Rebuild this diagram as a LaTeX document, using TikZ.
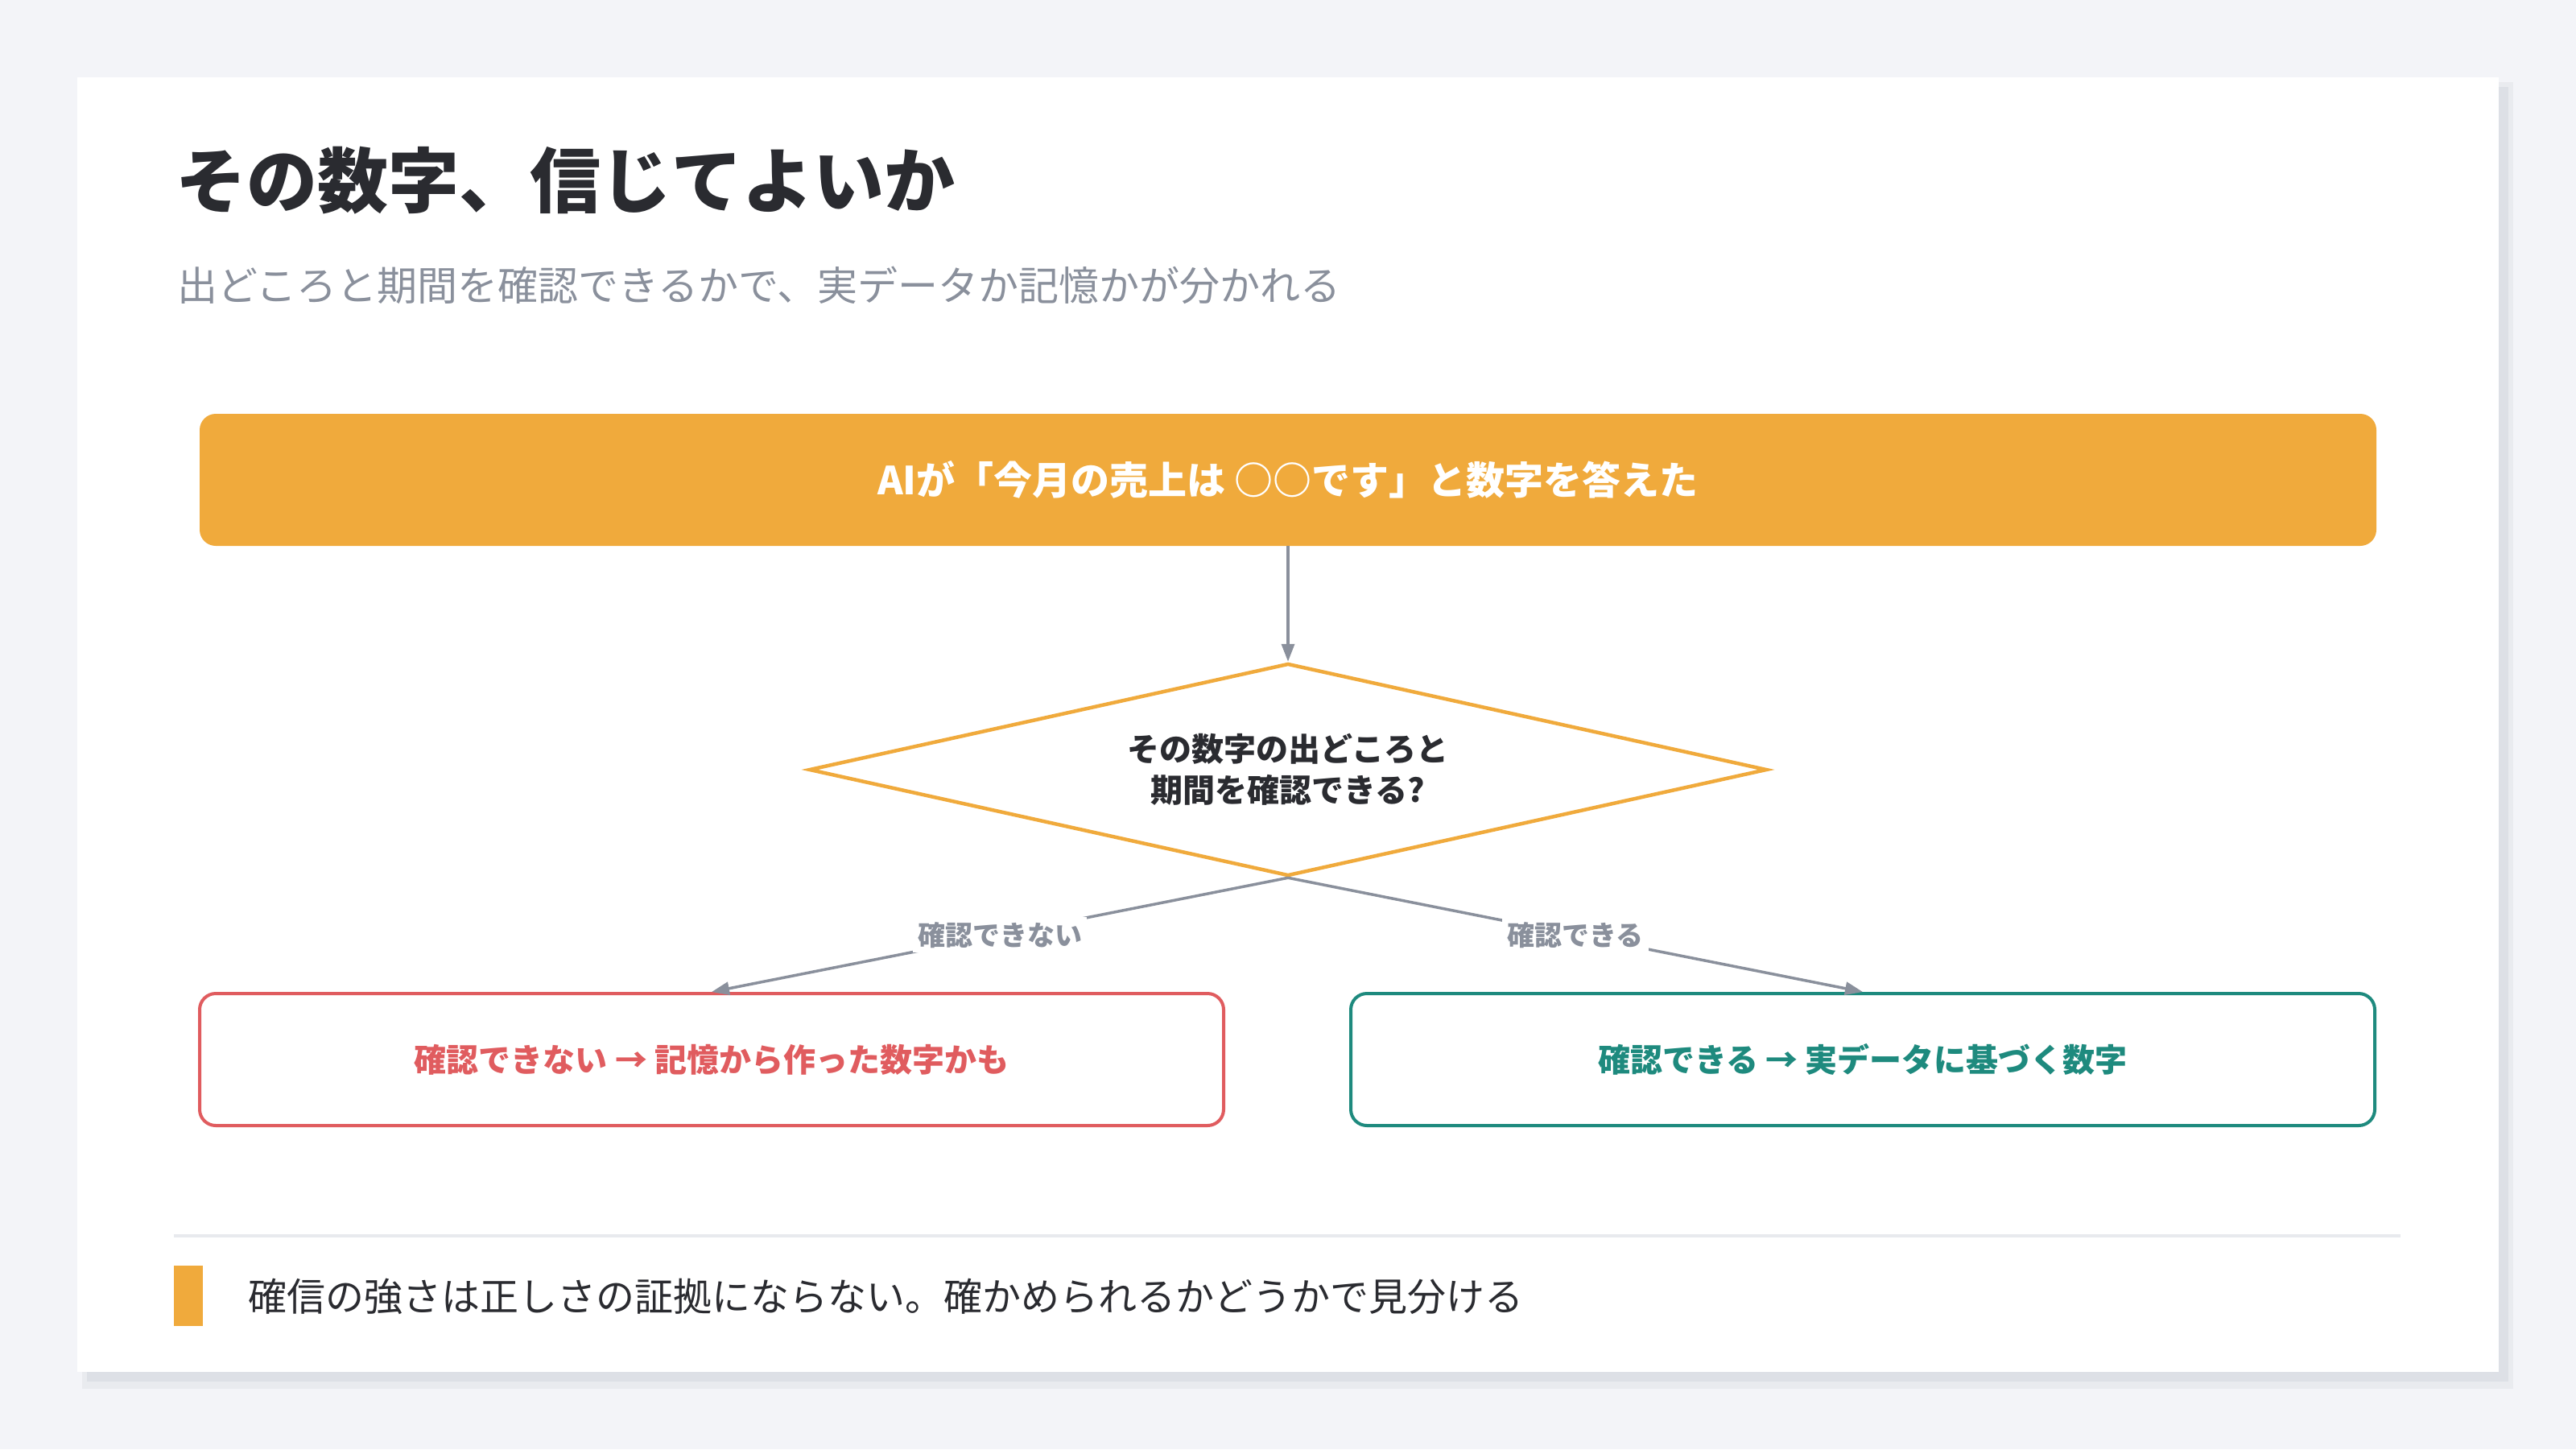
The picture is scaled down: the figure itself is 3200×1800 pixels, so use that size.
\documentclass[tikz,border=0pt]{standalone}
\usepackage{fontspec}
\setmainfont{Noto Sans CJK JP}
\usetikzlibrary{shapes.geometric,arrows.meta}
\definecolor{bgc}{HTML}{F3F4F8}
\definecolor{shadowA}{HTML}{DDE0E6}
\definecolor{shadowB}{HTML}{E9EBEF}
\definecolor{orangeC}{HTML}{F0AA3C}
\definecolor{redC}{HTML}{E05C5F}
\definecolor{tealC}{HTML}{1E8A7E}
\definecolor{greyC}{HTML}{8A909C}
\definecolor{darkC}{HTML}{2A2B30}
\definecolor{ruleC}{HTML}{E8EAEE}
\tikzset{
  fs/.style={font=\fontsize{#1pt}{#1pt}\selectfont},
  fsb/.style={font=\fontsize{#1pt}{#1pt}\selectfont\bfseries},
  topbox/.style={rectangle, rounded corners=20pt, fill=orangeC, minimum width=2704pt, minimum height=164pt, inner sep=0pt, text=white, fsb=48},
  resbox/.style={rectangle, rounded corners=20pt, draw=#1, line width=4pt, fill=white, minimum width=1272pt, minimum height=164pt, inner sep=0pt, text=#1, fsb=40},
  decision/.style={diamond, draw=orangeC, line width=4.5pt, fill=white, minimum width=1190pt, minimum height=264pt, inner sep=0pt, aspect=4.5, align=center, text=darkC, font=\fontsize{40pt}{51pt}\selectfont\bfseries},
  conn/.style={draw=greyC, line width=3.5pt, -{Triangle[length=22pt,width=16pt]}},
  edgelabel/.style={fill=white, text=greyC, inner sep=6pt, fsb=34}
}
\begin{document}
\begin{tikzpicture}[x=1pt,y=-1pt]
\useasboundingbox (0,0) rectangle (3200,1800);
\fill[bgc] (0,0) rectangle (3200,1800);
% card with shadow
\fill[shadowB] (102,102) rectangle (3122,1725);
\fill[shadowA] (108,108) rectangle (3116,1716);
\fill[white] (96,96) rectangle (3104,1704);
% titles
\node[anchor=west, inner sep=0pt, text=darkC, fsb=88] (title) at (218,224) {その数字、信じてよいか};
\node[anchor=west, inner sep=0pt, text=greyC, fs=50] (subtitle) at (220,354) {出どころと期間を確認できるかで、実データか記憶かが分かれる};
% flow
\node[topbox] (top) at (1600,596) {AIが「今月の売上は ○○です」と数字を答えた};
\node[decision] (dec) at (1600,956) {その数字の出どころと\\期間を確認できる?};
\node[resbox=redC] (no) at (884,1316) {確認できない → 記憶から作った数字かも};
\node[resbox=tealC] (yes) at (2314,1316) {確認できる → 実データに基づく数字};
\draw[conn] (top.south) -- (dec.north);
\draw[conn] (dec.south) -- node[edgelabel] (nolab) {確認できない} (no.north);
\draw[conn] (dec.south) -- node[edgelabel] (yeslab) {確認できる} (yes.north);
% footer
\draw[ruleC, line width=3.5pt] (216,1535) -- (2982,1535);
\fill[orangeC] (216,1572) rectangle (252,1647);
\node[anchor=west, inner sep=0pt, text=darkC, fs=48] (note) at (308,1610) {確信の強さは正しさの証拠にならない。確かめられるかどうかで見分ける};
\end{tikzpicture}
\end{document}
